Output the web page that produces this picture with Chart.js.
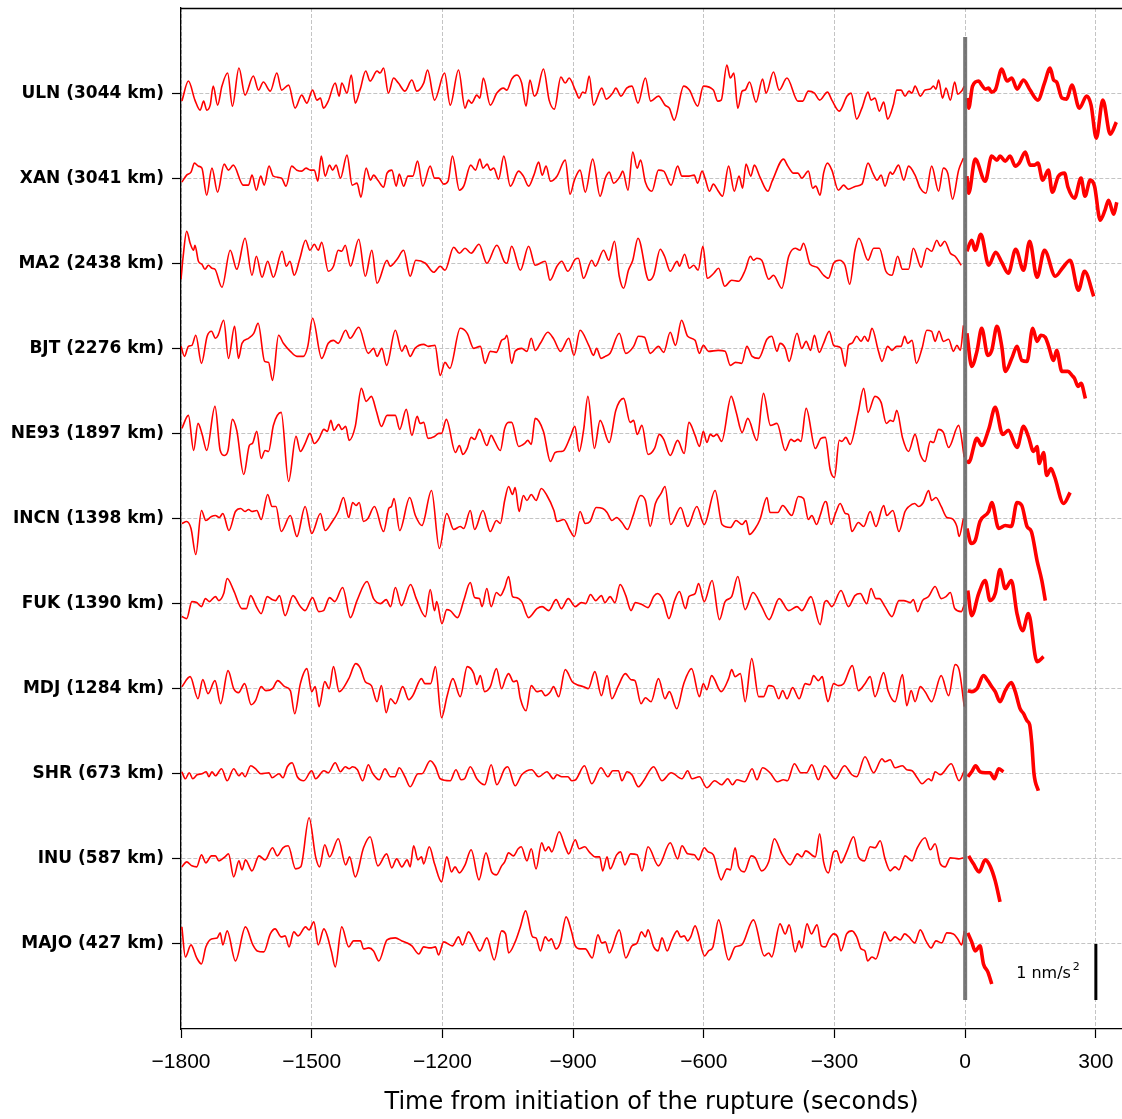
<!DOCTYPE html>
<html>
<head>
<meta charset="utf-8">
<script src="https://cdn.jsdelivr.net/npm/chart.js@4.4.0/dist/chart.umd.min.js"></script>
<style>
  html, body { margin: 0; padding: 0; background: #fff; }
</style>
</head>
<body>
<canvas id="grafico-sismos" width="1122" height="1119"></canvas>
<script>
// estaciones de arriba hacia abajo
const ESTACIONES = ['ULN', 'XAN', 'MA2', 'BJT', 'NE93', 'INCN', 'FUK', 'MDJ', 'SHR', 'INU', 'MAJO'];
const DISTANCIAS_KM = [3044, 3041, 2438, 2276, 1897, 1398, 1390, 1284, 673, 587, 427];
const TICKS_TIEMPO = [-1800, -1500, -1200, -900, -600, -300, 0, 300];

// amplitudes en cuentas, GANANCIA cuentas = separacion entre trazas, 56 cuentas = 1 nm/s2
const GANANCIA = 85;
const CUENTAS_NMS2 = 56;

// [tiempo (s), amplitud] antes del inicio de la ruptura
const ULN_PRE = [[-1798,-8],[-1783,12],[-1768,-7],[-1756,-17],[-1748,-8],[-1741,-17],[-1733,-12],[-1726,7],[-1716,-12],[-1706,7],[-1693,20],[-1682,-13],[-1667,25],[-1653,-2],[-1634,17],[-1622,3],[-1611,11],[-1595,2],[-1580,20],[-1569,3],[-1553,8],[-1538,-15],[-1523,-2],[-1511,-10],[-1498,3],[-1488,-7],[-1480,-5],[-1473,-15],[-1462,-8],[-1446,10],[-1437,-3],[-1431,10],[-1419,0],[-1409,18],[-1400,-10],[-1389,3],[-1376,22],[-1366,12],[-1350,22],[-1343,20],[-1335,25],[-1324,0],[-1312,15],[-1301,10],[-1286,2],[-1270,13],[-1259,2],[-1243,10],[-1234,23],[-1218,-7],[-1195,20],[-1182,-12],[-1163,23],[-1148,-15],[-1140,-7],[-1133,-10],[-1121,-2],[-1114,-5],[-1106,15],[-1090,-12],[-1075,0],[-1060,5],[-1052,3],[-1041,14],[-1029,18],[-1018,10],[-1008,-13],[-999,13],[-989,-3],[-983,0],[-968,24],[-955,-7],[-943,-16],[-928,16],[-918,10],[-909,15],[-895,3],[-886,-5],[-878,1],[-872,0],[-863,17],[-853,-12],[-834,5],[-824,-6],[-809,0],[-802,5],[-790,-3],[-777,5],[-765,7],[-751,-10],[-734,15],[-722,-8],[-704,-3],[-689,-12],[-679,-15],[-668,-27],[-646,7],[-633,3],[-614,-13],[-601,7],[-578,3],[-568,-8],[-560,-7],[-547,28],[-539,15],[-531,20],[-522,-15],[-512,2],[-505,3],[-495,11],[-480,-9],[-465,14],[-457,0],[-440,21],[-427,3],[-409,15],[-384,-8],[-373,-8],[-360,2],[-346,0],[-334,-7],[-316,1],[-306,-7],[-289,-18],[-271,-3],[-262,0],[-249,-26],[-237,-15],[-223,1],[-216,-7],[-207,-5],[-197,-18],[-187,-9],[-178,-26],[-165,-12],[-157,3],[-147,3],[-138,-3],[-129,2],[-122,0],[-115,7],[-103,-3],[-92,3],[-80,4],[-73,7],[-67,4],[-61,13],[-52,-5],[-44,5],[-34,-7],[-24,11],[-17,-1],[-8,2],[-2,7]];
const XAN_PRE = [[-1798,-4],[-1787,3],[-1777,6],[-1769,15],[-1760,12],[-1752,10],[-1741,-17],[-1729,10],[-1716,-14],[-1701,14],[-1691,8],[-1680,13],[-1657,-7],[-1645,-7],[-1637,3],[-1627,-12],[-1617,2],[-1609,-7],[-1598,12],[-1588,2],[-1569,0],[-1559,-8],[-1546,12],[-1534,8],[-1523,7],[-1513,10],[-1503,8],[-1494,8],[-1486,-3],[-1478,22],[-1469,2],[-1459,13],[-1452,8],[-1444,13],[-1434,0],[-1419,23],[-1407,-7],[-1396,-5],[-1387,-19],[-1375,10],[-1365,-2],[-1358,3],[-1348,-2],[-1335,-9],[-1327,5],[-1316,8],[-1306,-8],[-1299,4],[-1289,-8],[-1279,2],[-1268,2],[-1257,17],[-1245,-8],[-1228,12],[-1218,0],[-1208,0],[-1197,-6],[-1187,-3],[-1177,22],[-1161,-12],[-1151,-8],[-1135,13],[-1124,8],[-1114,19],[-1107,10],[-1097,14],[-1090,8],[-1082,10],[-1071,-1],[-1059,22],[-1044,-8],[-1025,7],[-1014,2],[-1002,-8],[-990,3],[-979,16],[-971,3],[-962,12],[-952,-3],[-937,2],[-918,18],[-907,-16],[-897,-2],[-884,8],[-872,-14],[-855,19],[-838,-18],[-826,0],[-817,6],[-807,-5],[-792,2],[-786,7],[-774,-12],[-763,26],[-753,10],[-745,18],[-734,-4],[-719,-13],[-704,8],[-692,7],[-675,-7],[-660,12],[-650,2],[-637,2],[-622,3],[-614,-5],[-604,7],[-597,0],[-587,-13],[-578,-6],[-568,-12],[-557,-18],[-543,12],[-530,-13],[-519,2],[-511,-10],[-503,14],[-492,2],[-484,13],[-471,1],[-453,-13],[-443,-3],[-417,19],[-407,12],[-394,5],[-384,5],[-375,0],[-360,7],[-350,-10],[-343,-8],[-333,-17],[-325,5],[-316,15],[-306,8],[-291,-12],[-279,-7],[-268,-11],[-251,-8],[-237,-6],[-223,15],[-212,5],[-202,-2],[-193,3],[-184,-8],[-172,6],[-167,4],[-153,13],[-141,-2],[-130,12],[-115,3],[-103,-10],[-90,-15],[-77,12],[-61,-13],[-50,10],[-40,5],[-29,-21],[-15,8],[-4,20]];
const MA2_PRE = [[-1800,-16],[-1795,7],[-1787,32],[-1779,20],[-1771,13],[-1768,18],[-1760,2],[-1752,-1],[-1745,-6],[-1737,-2],[-1729,-5],[-1722,-6],[-1706,-24],[-1687,13],[-1672,-6],[-1653,25],[-1637,-12],[-1627,7],[-1614,-14],[-1601,2],[-1588,-14],[-1568,12],[-1558,-3],[-1550,2],[-1540,-12],[-1527,5],[-1514,23],[-1504,13],[-1494,19],[-1485,13],[-1477,21],[-1462,-8],[-1450,-3],[-1439,13],[-1431,12],[-1423,18],[-1411,-3],[-1392,24],[-1377,-13],[-1362,13],[-1350,-20],[-1327,3],[-1320,-3],[-1304,4],[-1289,13],[-1274,-13],[-1261,3],[-1239,0],[-1220,-9],[-1205,-3],[-1194,-7],[-1174,16],[-1161,10],[-1148,15],[-1134,10],[-1116,19],[-1098,0],[-1075,18],[-1057,1],[-1052,0],[-1041,17],[-1021,-7],[-1002,17],[-987,-2],[-964,2],[-953,-17],[-937,-3],[-926,2],[-912,-8],[-895,4],[-888,5],[-876,-15],[-857,3],[-849,-3],[-830,13],[-818,3],[-805,22],[-794,-13],[-784,-25],[-773,-7],[-763,3],[-751,25],[-726,-17],[-715,-12],[-700,14],[-690,7],[-677,-8],[-661,2],[-656,-3],[-644,9],[-633,-5],[-623,-2],[-613,-7],[-602,17],[-592,-15],[-577,-10],[-566,-5],[-552,-23],[-536,-17],[-520,-18],[-505,-7],[-493,7],[-486,3],[-478,5],[-467,3],[-451,-16],[-440,-12],[-421,-25],[-405,7],[-390,15],[-379,13],[-371,20],[-356,-1],[-340,-4],[-325,-12],[-314,-15],[-302,0],[-289,3],[-276,-2],[-265,-21],[-253,13],[-244,25],[-223,3],[-210,15],[-197,15],[-182,-8],[-168,-12],[-155,7],[-144,-6],[-130,-6],[-119,15],[-101,-4],[-88,15],[-77,12],[-65,23],[-57,17],[-47,22],[-34,10],[-23,7],[-9,-2]];
const BJT_PRE = [[-1800,2],[-1792,-8],[-1783,2],[-1775,3],[-1766,13],[-1753,-15],[-1740,12],[-1730,17],[-1721,10],[-1715,13],[-1702,28],[-1691,-10],[-1677,22],[-1668,-10],[-1660,5],[-1645,10],[-1633,15],[-1623,25],[-1608,-13],[-1599,-14],[-1590,-32],[-1576,13],[-1565,5],[-1549,-3],[-1534,-8],[-1519,-8],[-1509,2],[-1498,30],[-1477,-10],[-1462,5],[-1450,8],[-1439,5],[-1422,18],[-1412,10],[-1392,21],[-1370,-5],[-1358,0],[-1350,-8],[-1339,0],[-1328,-17],[-1308,18],[-1293,-3],[-1285,3],[-1274,-8],[-1263,0],[-1243,4],[-1232,2],[-1217,3],[-1205,-27],[-1194,-14],[-1183,-20],[-1159,20],[-1143,15],[-1128,0],[-1113,2],[-1102,-15],[-1090,-3],[-1076,-4],[-1064,8],[-1056,10],[-1052,13],[-1041,-15],[-1033,-3],[-1018,0],[-1006,-3],[-996,10],[-987,-2],[-975,5],[-958,16],[-944,9],[-929,-3],[-910,10],[-898,-7],[-884,18],[-864,3],[-853,-7],[-846,0],[-836,-10],[-826,-8],[-815,-5],[-794,15],[-779,-5],[-761,2],[-750,12],[-736,11],[-723,-5],[-704,2],[-692,-4],[-677,16],[-665,3],[-651,28],[-637,12],[-620,8],[-610,-5],[-601,3],[-589,-3],[-567,-2],[-551,-3],[-539,-17],[-527,-14],[-513,-15],[-501,2],[-489,-8],[-474,-10],[-455,9],[-444,12],[-432,-3],[-425,5],[-413,0],[-404,-13],[-386,15],[-375,0],[-365,7],[-355,-2],[-346,13],[-335,-4],[-325,5],[-312,17],[-302,3],[-295,2],[-285,0],[-275,-18],[-268,3],[-260,5],[-249,12],[-239,7],[-231,12],[-223,7],[-214,20],[-199,-3],[-191,-13],[-178,2],[-168,-2],[-157,2],[-147,2],[-139,12],[-132,5],[-122,8],[-112,-15],[-99,0],[-88,18],[-77,17],[-69,7],[-60,17],[-50,7],[-38,9],[-27,-3],[-19,3],[-11,-2],[-4,23]];
const NE93_PRE = [[-1798,5],[-1783,18],[-1771,-17],[-1761,10],[-1752,0],[-1741,-17],[-1722,27],[-1710,-17],[-1700,-22],[-1692,-17],[-1682,14],[-1672,3],[-1656,-41],[-1643,-12],[-1636,-10],[-1626,2],[-1616,-25],[-1607,-17],[-1599,-18],[-1588,8],[-1570,21],[-1553,-48],[-1536,-3],[-1526,-18],[-1515,-10],[-1504,0],[-1494,-10],[-1483,-5],[-1472,4],[-1464,2],[-1456,13],[-1449,3],[-1438,9],[-1431,4],[-1422,7],[-1414,-7],[-1400,7],[-1386,45],[-1375,32],[-1363,37],[-1352,23],[-1340,7],[-1327,18],[-1308,18],[-1298,4],[-1283,24],[-1270,-2],[-1258,17],[-1251,10],[-1243,11],[-1233,-5],[-1218,-3],[-1208,0],[-1202,0],[-1191,14],[-1170,-19],[-1161,-12],[-1153,-21],[-1143,-15],[-1134,-4],[-1126,-6],[-1115,4],[-1098,-12],[-1088,-2],[-1080,-8],[-1067,-17],[-1057,5],[-1048,11],[-1041,11],[-1025,-13],[-1011,-10],[-1004,-7],[-996,-11],[-987,15],[-968,2],[-952,-28],[-941,-19],[-927,-18],[-921,-17],[-906,-3],[-896,7],[-886,-18],[-876,3],[-866,37],[-851,-15],[-838,13],[-817,-9],[-802,23],[-784,35],[-769,11],[-761,13],[-753,-1],[-742,8],[-728,-21],[-713,-15],[-702,-1],[-692,-6],[-677,-22],[-660,-7],[-645,-20],[-634,11],[-620,-2],[-610,-13],[-601,2],[-593,-9],[-585,-1],[-578,-3],[-570,-1],[-559,-8],[-537,37],[-526,22],[-512,1],[-499,15],[-478,-7],[-463,40],[-447,8],[-432,10],[-413,-17],[-400,-6],[-392,-8],[-384,-6],[-377,-8],[-365,25],[-344,-15],[-331,-5],[-321,-4],[-310,-36],[-300,-44],[-289,-7],[-283,-8],[-274,-4],[-264,-11],[-246,20],[-233,45],[-223,21],[-207,37],[-193,31],[-181,10],[-172,13],[-165,12],[-157,23],[-144,-4],[-130,-18],[-115,-1],[-103,-21],[-92,-28],[-80,-8],[-73,-9],[-61,4],[-50,1],[-38,-14],[-15,8],[-2,-24]];
const INCN_PRE = [[-1798,-5],[-1787,-3],[-1777,-10],[-1766,-36],[-1753,8],[-1743,-2],[-1730,2],[-1721,3],[-1712,1],[-1704,5],[-1690,-12],[-1675,7],[-1663,10],[-1653,7],[-1645,9],[-1637,7],[-1626,8],[-1616,-1],[-1601,24],[-1591,12],[-1582,12],[-1570,-13],[-1549,3],[-1534,-18],[-1515,12],[-1500,-15],[-1480,5],[-1469,-12],[-1454,-4],[-1439,7],[-1427,21],[-1415,1],[-1406,16],[-1398,13],[-1391,16],[-1381,-3],[-1371,0],[-1356,12],[-1335,-13],[-1323,10],[-1317,12],[-1311,20],[-1298,-12],[-1275,21],[-1262,3],[-1247,-7],[-1225,28],[-1207,-30],[-1190,5],[-1174,-11],[-1159,-8],[-1151,-10],[-1136,8],[-1126,-11],[-1107,8],[-1090,-13],[-1076,-2],[-1067,-5],[-1057,18],[-1048,32],[-1039,24],[-1033,31],[-1024,7],[-1014,23],[-1006,18],[-996,24],[-985,18],[-973,30],[-960,23],[-944,8],[-937,-3],[-921,-1],[-907,-12],[-897,-18],[-884,7],[-872,-5],[-861,-3],[-847,11],[-832,10],[-822,6],[-811,-2],[-800,1],[-788,-4],[-775,-11],[-763,2],[-745,23],[-734,18],[-723,-8],[-711,15],[-698,25],[-689,32],[-676,-6],[-653,11],[-637,-8],[-616,12],[-599,-6],[-574,28],[-558,-6],[-539,-9],[-526,-2],[-512,-6],[-503,-2],[-495,-16],[-482,-10],[-471,-1],[-455,21],[-448,6],[-430,6],[-419,13],[-398,3],[-383,22],[-371,20],[-360,-1],[-352,3],[-341,-6],[-333,3],[-321,17],[-318,16],[-308,-6],[-297,6],[-287,15],[-275,5],[-268,4],[-260,-13],[-245,-4],[-233,-8],[-218,7],[-205,-8],[-187,13],[-180,3],[-166,8],[-152,-13],[-138,7],[-129,12],[-116,15],[-107,12],[-96,16],[-84,28],[-77,18],[-67,21],[-55,12],[-42,1],[-31,0],[-19,-8],[-14,-18],[-4,0]];
const FUK_PRE = [[-1798,-13],[-1787,-15],[-1775,2],[-1764,1],[-1753,-3],[-1744,5],[-1735,2],[-1721,7],[-1713,3],[-1702,10],[-1694,25],[-1679,13],[-1660,-5],[-1650,-5],[-1640,8],[-1627,-3],[-1616,-10],[-1602,7],[-1591,4],[-1583,3],[-1574,8],[-1561,-12],[-1543,8],[-1526,-3],[-1515,-7],[-1498,6],[-1484,-8],[-1473,-7],[-1459,6],[-1447,2],[-1429,16],[-1411,-14],[-1396,3],[-1373,22],[-1358,5],[-1342,0],[-1329,4],[-1319,-3],[-1308,16],[-1294,-2],[-1273,19],[-1260,5],[-1239,-13],[-1228,14],[-1218,-7],[-1213,2],[-1201,-20],[-1190,-6],[-1182,-7],[-1165,-14],[-1151,3],[-1136,21],[-1126,6],[-1115,5],[-1109,-3],[-1098,15],[-1088,-3],[-1076,11],[-1067,8],[-1057,16],[-1048,27],[-1039,7],[-1031,6],[-1018,2],[-1002,-14],[-983,-5],[-971,-3],[-956,-7],[-939,4],[-927,-5],[-911,5],[-895,-3],[-881,1],[-871,0],[-860,9],[-848,3],[-835,8],[-827,1],[-815,7],[-804,1],[-792,19],[-779,8],[-767,-7],[-757,1],[-742,-1],[-728,-4],[-715,7],[-706,10],[-693,3],[-680,-15],[-667,3],[-656,12],[-642,-5],[-634,7],[-620,10],[-612,20],[-599,2],[-581,23],[-564,-16],[-551,2],[-536,7],[-522,27],[-505,-6],[-487,11],[-467,-3],[-450,-16],[-427,5],[-405,-7],[-386,-3],[-375,-7],[-354,7],[-333,-21],[-323,1],[-318,3],[-306,-3],[-285,13],[-268,-3],[-253,8],[-241,10],[-226,0],[-216,15],[-205,5],[-197,5],[-184,-3],[-168,-13],[-152,3],[-141,3],[-126,1],[-119,4],[-109,-8],[-98,3],[-84,7],[-69,17],[-55,5],[-44,7],[-34,11],[-24,-5],[-9,-8],[-2,-1]];
const MDJ_PRE = [[-1798,2],[-1779,12],[-1761,-10],[-1750,9],[-1738,-5],[-1722,8],[-1709,-15],[-1692,18],[-1679,0],[-1668,-4],[-1654,5],[-1639,-16],[-1629,-12],[-1616,2],[-1605,-2],[-1590,0],[-1578,8],[-1562,2],[-1549,-2],[-1539,-25],[-1526,5],[-1511,20],[-1500,-3],[-1492,2],[-1483,-18],[-1470,7],[-1460,0],[-1450,22],[-1437,-3],[-1415,10],[-1399,25],[-1389,21],[-1377,7],[-1363,3],[-1350,-13],[-1340,3],[-1329,-24],[-1319,-10],[-1308,-15],[-1291,2],[-1277,-11],[-1268,-7],[-1248,10],[-1240,5],[-1227,5],[-1216,22],[-1202,-29],[-1189,-7],[-1176,10],[-1159,-8],[-1143,22],[-1128,15],[-1121,4],[-1113,13],[-1103,-3],[-1090,2],[-1076,20],[-1064,0],[-1055,10],[-1048,15],[-1037,7],[-1029,8],[-1021,-10],[-1008,-22],[-996,3],[-983,-3],[-973,-2],[-964,-7],[-952,-3],[-945,2],[-933,-8],[-918,19],[-902,7],[-891,4],[-876,2],[-865,0],[-850,17],[-835,-7],[-822,13],[-811,-10],[-797,2],[-780,15],[-767,9],[-758,8],[-744,-15],[-734,-9],[-721,-13],[-704,10],[-689,-10],[-679,-3],[-662,-20],[-646,5],[-628,20],[-610,-8],[-601,5],[-593,-1],[-582,13],[-560,-3],[-543,10],[-536,19],[-528,12],[-516,15],[-505,-13],[-490,30],[-474,-8],[-463,-8],[-451,3],[-440,2],[-428,-10],[-419,-2],[-409,-10],[-396,1],[-381,-10],[-367,5],[-356,4],[-348,13],[-337,8],[-328,12],[-321,-3],[-315,-13],[-302,5],[-291,3],[-279,5],[-259,23],[-245,-2],[-230,5],[-218,12],[-207,-8],[-187,16],[-177,-2],[-161,-13],[-144,14],[-134,-17],[-124,-2],[-115,-13],[-103,2],[-92,-3],[-77,-13],[-55,13],[-38,-7],[-23,24],[-14,19],[-2,-18]];
const SHR_PRE = [[-1798,2],[-1790,-5],[-1781,1],[-1773,-5],[-1763,-1],[-1752,0],[-1742,2],[-1736,-3],[-1729,2],[-1721,-2],[-1707,5],[-1694,-7],[-1679,5],[-1667,-2],[-1660,1],[-1653,-3],[-1640,8],[-1629,5],[-1617,0],[-1598,1],[-1591,-4],[-1575,0],[-1566,-4],[-1556,7],[-1545,11],[-1533,-3],[-1518,-7],[-1500,3],[-1491,-5],[-1472,3],[-1462,1],[-1446,11],[-1434,2],[-1423,7],[-1414,5],[-1406,7],[-1395,4],[-1383,-7],[-1370,9],[-1361,1],[-1345,-6],[-1332,5],[-1319,-3],[-1309,-3],[-1299,6],[-1286,-3],[-1274,-13],[-1256,0],[-1247,0],[-1228,13],[-1216,7],[-1205,-5],[-1182,-7],[-1169,4],[-1157,-6],[-1149,-5],[-1136,7],[-1121,-5],[-1103,-11],[-1088,9],[-1075,-11],[-1057,5],[-1050,7],[-1033,-12],[-1018,-1],[-995,4],[-979,-3],[-960,2],[-945,-5],[-937,-1],[-926,-3],[-912,-3],[-903,-7],[-894,-6],[-874,8],[-857,-10],[-836,6],[-820,-3],[-809,3],[-796,3],[-788,-7],[-776,2],[-765,-1],[-750,-13],[-738,-7],[-715,7],[-696,-7],[-675,1],[-650,-5],[-637,3],[-627,-5],[-610,-3],[-593,-14],[-575,-7],[-559,-11],[-545,-5],[-534,-11],[-524,-6],[-506,-8],[-489,5],[-478,-6],[-465,6],[-448,1],[-431,-8],[-417,-6],[-408,-7],[-392,10],[-377,1],[-364,1],[-352,9],[-337,-6],[-323,8],[-298,-5],[-277,8],[-260,-1],[-249,-3],[-230,17],[-210,1],[-191,15],[-184,12],[-172,14],[-161,6],[-144,8],[-134,4],[-122,3],[-110,-4],[-99,-10],[-84,-5],[-77,-7],[-69,2],[-57,-1],[-32,10],[-14,-7],[-2,3]];
const INU_PRE = [[-1798,-8],[-1787,-3],[-1775,-7],[-1764,-8],[-1753,4],[-1743,-4],[-1730,3],[-1721,3],[-1713,-2],[-1699,2],[-1691,5],[-1679,-18],[-1667,-2],[-1660,-11],[-1652,-1],[-1637,-12],[-1621,3],[-1607,-1],[-1590,11],[-1579,3],[-1566,11],[-1554,13],[-1537,-10],[-1525,-8],[-1506,41],[-1491,2],[-1482,-8],[-1470,14],[-1459,2],[-1439,20],[-1422,-6],[-1413,2],[-1400,-18],[-1381,11],[-1366,22],[-1348,-7],[-1328,5],[-1316,-9],[-1305,0],[-1293,-8],[-1281,-1],[-1274,-8],[-1266,13],[-1256,-1],[-1248,2],[-1243,-5],[-1230,12],[-1218,-5],[-1202,-23],[-1190,2],[-1179,-13],[-1171,-8],[-1161,-14],[-1148,-6],[-1134,9],[-1116,-21],[-1100,6],[-1087,-13],[-1076,-16],[-1064,-7],[-1057,-3],[-1048,6],[-1037,3],[-1026,10],[-1019,12],[-1006,-2],[-996,10],[-985,-10],[-972,16],[-964,8],[-956,12],[-949,7],[-932,27],[-918,12],[-910,5],[-895,19],[-886,10],[-873,12],[-863,7],[-849,2],[-839,2],[-832,-12],[-822,2],[-815,-10],[-800,4],[-791,7],[-781,-6],[-768,5],[-753,4],[-742,-12],[-728,12],[-704,-7],[-677,16],[-660,0],[-650,13],[-637,5],[-622,4],[-612,-1],[-599,11],[-590,7],[-578,4],[-560,-21],[-547,-10],[-539,-11],[-528,11],[-520,-8],[-507,-13],[-491,3],[-482,1],[-467,-12],[-451,-3],[-438,20],[-421,5],[-402,-6],[-385,5],[-375,2],[-366,8],[-344,2],[-334,25],[-325,-3],[-314,-14],[-302,7],[-295,8],[-285,-4],[-272,7],[-256,22],[-245,2],[-231,-2],[-218,12],[-207,11],[-195,18],[-184,0],[-172,-12],[-161,-8],[-152,-11],[-138,3],[-122,-2],[-111,10],[-92,21],[-80,9],[-69,15],[-57,-5],[-46,-8],[-34,1],[-15,0],[-4,1]];
const MAJO_PRE = [[-1798,17],[-1790,-13],[-1777,-1],[-1764,-14],[-1753,-20],[-1743,-3],[-1730,5],[-1717,6],[-1710,11],[-1704,-1],[-1694,13],[-1675,-17],[-1652,17],[-1635,-1],[-1625,-7],[-1610,-8],[-1595,10],[-1584,15],[-1570,7],[-1561,8],[-1552,-3],[-1541,12],[-1531,8],[-1514,17],[-1506,14],[-1495,22],[-1485,-1],[-1472,15],[-1455,-7],[-1446,-23],[-1431,17],[-1415,-3],[-1404,3],[-1388,3],[-1381,-5],[-1369,-4],[-1358,-7],[-1346,-17],[-1327,4],[-1308,6],[-1293,3],[-1281,1],[-1270,-2],[-1254,-10],[-1243,-3],[-1228,-4],[-1216,-3],[-1209,-11],[-1197,2],[-1177,-2],[-1163,7],[-1154,-1],[-1140,12],[-1125,1],[-1114,-7],[-1098,6],[-1081,-16],[-1064,13],[-1055,10],[-1048,-9],[-1033,2],[-1021,17],[-1009,33],[-993,7],[-985,6],[-975,-7],[-964,7],[-956,3],[-950,5],[-939,-5],[-929,2],[-916,27],[-904,13],[-895,-2],[-884,-5],[-872,-5],[-856,-14],[-843,9],[-834,1],[-826,2],[-817,-9],[-794,14],[-779,-14],[-765,-2],[-753,1],[-743,12],[-734,7],[-728,14],[-715,-3],[-705,-7],[-696,6],[-684,-7],[-674,3],[-661,13],[-653,7],[-645,8],[-637,3],[-630,7],[-620,18],[-598,-12],[-589,-7],[-579,-3],[-566,24],[-543,-16],[-528,-3],[-513,-1],[-486,24],[-461,-12],[-451,-9],[-444,-13],[-425,20],[-413,10],[-404,19],[-390,-8],[-381,3],[-375,-4],[-363,20],[-353,10],[-340,19],[-330,-2],[-321,-3],[-312,5],[-302,10],[-293,7],[-285,-7],[-272,10],[-260,13],[-249,7],[-239,-5],[-230,-7],[-224,-17],[-214,-13],[-205,-15],[-193,1],[-185,12],[-172,3],[-161,7],[-149,4],[-139,10],[-129,7],[-116,1],[-103,14],[-90,3],[-78,-4],[-67,3],[-54,1],[-42,11],[-27,10],[-17,5],[-8,-1],[-2,13]];

// [tiempo (s), amplitud] despues del inicio (trazo grueso)
const ULN_POST = [[4,-5],[8,-15],[17,7],[31,12],[38,8],[46,4],[54,5],[60,1],[69,3],[84,24],[96,12],[107,15],[119,4],[134,13],[149,3],[167,-7],[182,10],[195,25],[203,13],[210,11],[222,-5],[233,-6],[245,8],[262,-15],[279,-3],[289,-12],[301,-45],[316,-7],[333,-41],[347,-29]];
const XAN_POST = [[4,2],[8,-15],[23,19],[46,-3],[61,22],[73,18],[80,22],[92,17],[103,22],[115,12],[124,15],[138,26],[149,13],[159,13],[167,15],[178,-2],[191,8],[200,-14],[214,2],[228,5],[236,-9],[251,-20],[266,0],[275,-18],[287,-2],[297,-8],[310,-42],[321,-32],[329,-22],[341,-36],[348,-24]];
const MA2_POST = [[4,12],[15,23],[23,13],[36,29],[54,-2],[70,11],[84,1],[99,-10],[116,14],[134,-7],[148,22],[165,-14],[182,13],[207,-13],[223,-5],[241,3],[260,-27],[274,-8],[295,-33]];
const BJT_POST = [[4,15],[15,-18],[27,-3],[38,20],[52,-7],[61,-2],[73,22],[84,2],[92,-23],[107,-10],[119,2],[130,-12],[142,-13],[155,20],[165,7],[174,13],[184,11],[191,3],[203,-12],[210,-2],[222,-23],[236,-23],[245,-27],[251,-30],[259,-38],[266,-35],[276,-50]];
const NE93_POST = [[4,-27],[8,-29],[27,-5],[38,-12],[54,4],[69,26],[86,-1],[99,3],[119,-14],[134,7],[145,-3],[157,-18],[165,-13],[170,-30],[180,-19],[187,-42],[197,-35],[205,-43],[226,-70],[241,-59]];
const INCN_POST = [[4,-10],[14,-25],[23,-22],[34,-3],[54,7],[61,16],[77,-10],[92,-7],[106,-8],[119,16],[130,13],[142,-8],[152,-13],[165,-42],[176,-62],[184,-82]];
const FUK_POST = [[6,13],[15,-12],[31,10],[46,23],[57,3],[69,10],[80,34],[92,15],[106,23],[119,-10],[132,-27],[145,-10],[165,-58],[180,-53]];
const MDJ_POST = [[6,-2],[15,-3],[27,0],[42,13],[52,8],[61,2],[69,-3],[80,-13],[92,-2],[106,6],[115,-3],[126,-20],[134,-25],[142,-32],[148,-36],[153,-55],[158,-85],[168,-102]];
const SHR_POST = [[6,-3],[15,2],[24,8],[34,2],[46,1],[57,1],[67,-5],[77,5],[88,2]];
const INU_POST = [[8,3],[19,-5],[32,-13],[46,-1],[57,-7],[69,-22],[80,-43]];
const MAJO_POST = [[6,11],[15,2],[23,-7],[34,-2],[42,-20],[52,-28],[61,-40]];

const TRAZAS_PRE = [ULN_PRE, XAN_PRE, MA2_PRE, BJT_PRE, NE93_PRE, INCN_PRE, FUK_PRE, MDJ_PRE, SHR_PRE, INU_PRE, MAJO_PRE];
const TRAZAS_POST = [ULN_POST, XAN_POST, MA2_POST, BJT_POST, NE93_POST, INCN_POST, FUK_POST, MDJ_POST, SHR_POST, INU_POST, MAJO_POST];

const cantidad = ESTACIONES.length;
const largoBarra = CUENTAS_NMS2 / GANANCIA; // 1 nm/s2 en unidades de fila

function aPuntos(traza, fila) {
    return traza.map(function (p) {
        return { x: p[0], y: fila + p[1] / GANANCIA };
    });
}

let datasets = [];

// linea del inicio de la ruptura
datasets.push({
    data: [{ x: 0, y: -largoBarra }, { x: 0, y: cantidad - 1 + largoBarra }],
    borderColor: 'rgba(105,105,105,0.9)',
    borderWidth: 4,
    pointRadius: 0,
    order: 0
});

// barra de escala 1 nm/s2
datasets.push({
    data: [{ x: 300, y: 0 }, { x: 300, y: -largoBarra }],
    borderColor: '#000000',
    borderWidth: 3,
    pointRadius: 0,
    order: 0
});

for (let i = 0; i < cantidad; i++) {
    let fila = cantidad - 1 - i;
    datasets.push({
        data: aPuntos(TRAZAS_PRE[i], fila),
        borderColor: '#ff0000',
        borderWidth: 1.6,
        pointRadius: 0,
        cubicInterpolationMode: 'monotone',
        borderJoinStyle: 'round',
        order: 1
    });
    datasets.push({
        data: aPuntos(TRAZAS_POST[i], fila),
        borderColor: '#ff0000',
        borderWidth: 3.6,
        pointRadius: 0,
        cubicInterpolationMode: 'monotone',
        borderJoinStyle: 'round',
        order: 1
    });
}

// borde superior y texto de la barra de escala
const extras = {
    id: 'extras',
    afterDraw: function (chart) {
        const ctx = chart.ctx;
        const area = chart.chartArea;
        const sx = chart.scales.x;
        const sy = chart.scales.y;
        ctx.save();
        ctx.strokeStyle = '#000';
        ctx.lineWidth = 1.3;
        ctx.beginPath();
        ctx.moveTo(area.left, area.top + 0.5);
        ctx.lineTo(area.right, area.top + 0.5);
        ctx.stroke();

        let xTexto = sx.getPixelForValue(300) - 25;
        let yTexto = sy.getPixelForValue(-largoBarra / 2);
        ctx.fillStyle = '#000';
        ctx.textAlign = 'right';
        ctx.textBaseline = 'middle';
        ctx.font = '16px "DejaVu Sans"';
        ctx.fillText('1 nm/s', xTexto, yTexto + 2);
        ctx.textAlign = 'left';
        ctx.font = '11px "DejaVu Sans"';
        ctx.fillText('2', xTexto + 2, yTexto - 5);
        ctx.restore();
    }
};

const ctx = document.getElementById('grafico-sismos');
let graficoSismos = new Chart(ctx, {
    type: 'line',
    data: { datasets: datasets },
    options: {
        responsive: false,
        animation: false,
        events: [],
        layout: { padding: { top: 8, right: 0, left: 0, bottom: 0 } },
        plugins: {
            legend: { display: false },
            tooltip: { enabled: false }
        },
        scales: {
            x: {
                type: 'linear',
                min: -1800,
                max: 360,
                afterBuildTicks: function (scale) {
                    scale.ticks = TICKS_TIEMPO.map(function (v) { return { value: v }; });
                },
                afterFit: function (scale) {
                    scale.height = 90;
                    scale.paddingLeft = 0;
                    scale.paddingRight = 0;
                },
                ticks: {
                    autoSkip: false,
                    maxRotation: 0,
                    padding: 12,
                    color: '#000',
                    font: { family: '"Liberation Sans"', size: 21 },
                    callback: function (v) { return v < 0 ? '\u2212' + Math.abs(v) : String(v); }
                },
                grid: {
                    color: '#b5b5b5',
                    lineWidth: 0.8,
                    tickColor: '#000',
                    tickLength: 9,
                    tickWidth: 1.2
                },
                border: { color: '#000', width: 1.3, dash: [4, 2] },
                title: {
                    display: true,
                    text: 'Time from initiation of the rupture (seconds)',
                    color: '#000',
                    font: { family: '"DejaVu Sans"', size: 24 },
                    padding: { top: 0, bottom: 2 }
                }
            },
            y: {
                type: 'linear',
                min: -1,
                max: 11,
                afterBuildTicks: function (scale) {
                    let t = [];
                    for (let v = 0; v < cantidad; v++) t.push({ value: v });
                    scale.ticks = t;
                },
                afterFit: function (scale) {
                    scale.width = 181;
                    scale.paddingTop = 0;
                    scale.paddingBottom = 0;
                },
                ticks: {
                    autoSkip: false,
                    padding: 8,
                    color: '#000',
                    font: { family: '"DejaVu Sans"', size: 17, weight: 'bold' },
                    callback: function (v) {
                        let i = cantidad - 1 - v;
                        return ESTACIONES[i] + ' (' + DISTANCIAS_KM[i] + ' km)';
                    }
                },
                grid: {
                    color: '#b5b5b5',
                    lineWidth: 0.8,
                    tickColor: '#000',
                    tickLength: 9,
                    tickWidth: 1.2
                },
                border: { color: '#000', width: 1.3, dash: [4, 2] }
            }
        }
    },
    plugins: [extras]
});
</script>
</body>
</html>
